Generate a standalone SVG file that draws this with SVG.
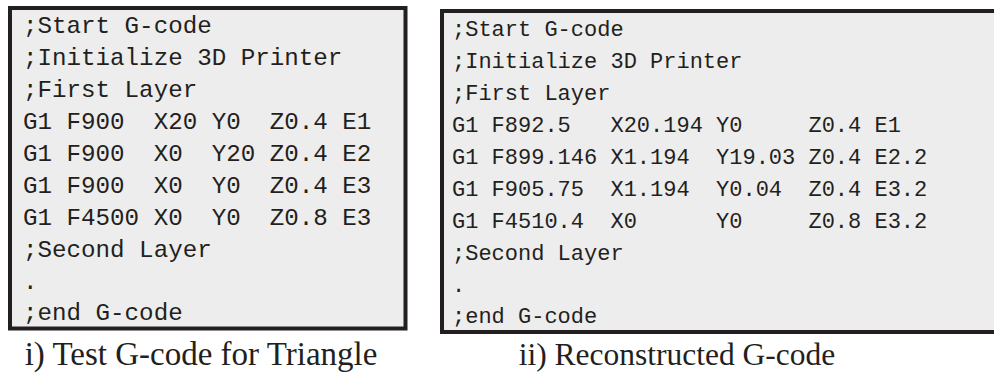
<svg xmlns="http://www.w3.org/2000/svg" width="994" height="375" viewBox="0 0 994 375">
<style>
.box{fill:#ededed;stroke:#231f20;stroke-width:4}
.code{font-family:"Liberation Mono","DejaVu Sans Mono",monospace;fill:#231f20;white-space:pre}
.l{font-size:24.2px}
.r{font-size:22px}
.cap{font-family:"Liberation Serif","Times New Roman",serif;fill:#231f20;text-anchor:middle}
</style>
<rect width="994" height="375" fill="#ffffff"/>
<g id="test-gcode">
<rect class="box" x="10" y="8" width="395.5" height="320.5"/>
<text class="code l" xml:space="preserve"><tspan x="23" y="33">;Start G-code</tspan><tspan x="23" y="65">;Initialize 3D Printer</tspan><tspan x="23" y="97">;First Layer</tspan><tspan x="23" y="129">G1 F900  X20 Y0  Z0.4 E1</tspan><tspan x="23" y="161">G1 F900  X0  Y20 Z0.4 E2</tspan><tspan x="23" y="193">G1 F900  X0  Y0  Z0.4 E3</tspan><tspan x="23" y="225">G1 F4500 X0  Y0  Z0.8 E3</tspan><tspan x="23" y="257">;Second Layer</tspan><tspan x="23" y="289">.</tspan><tspan x="23" y="320">;end G-code</tspan></text>
</g>
<g id="reconstructed-gcode">
<rect class="box" x="442" y="11" width="560" height="321"/>
<text class="code r" xml:space="preserve"><tspan x="452" y="36">;Start G-code</tspan><tspan x="452" y="68">;Initialize 3D Printer</tspan><tspan x="452" y="100">;First Layer</tspan><tspan x="452" y="132">G1 F892.5   X20.194 Y0     Z0.4 E1</tspan><tspan x="452" y="164">G1 F899.146 X1.194  Y19.03 Z0.4 E2.2</tspan><tspan x="452" y="196">G1 F905.75  X1.194  Y0.04  Z0.4 E3.2</tspan><tspan x="452" y="228">G1 F4510.4  X0      Y0     Z0.8 E3.2</tspan><tspan x="452" y="260">;Second Layer</tspan><tspan x="452" y="292">.</tspan><tspan x="452" y="323">;end G-code</tspan></text>
</g>
<g id="captions">
<text class="cap" x="201" y="365" font-size="33">i) Test G-code for Triangle</text>
<text class="cap" x="677" y="365" font-size="31.5">ii) Reconstructed G-code</text>
</g>
</svg>
